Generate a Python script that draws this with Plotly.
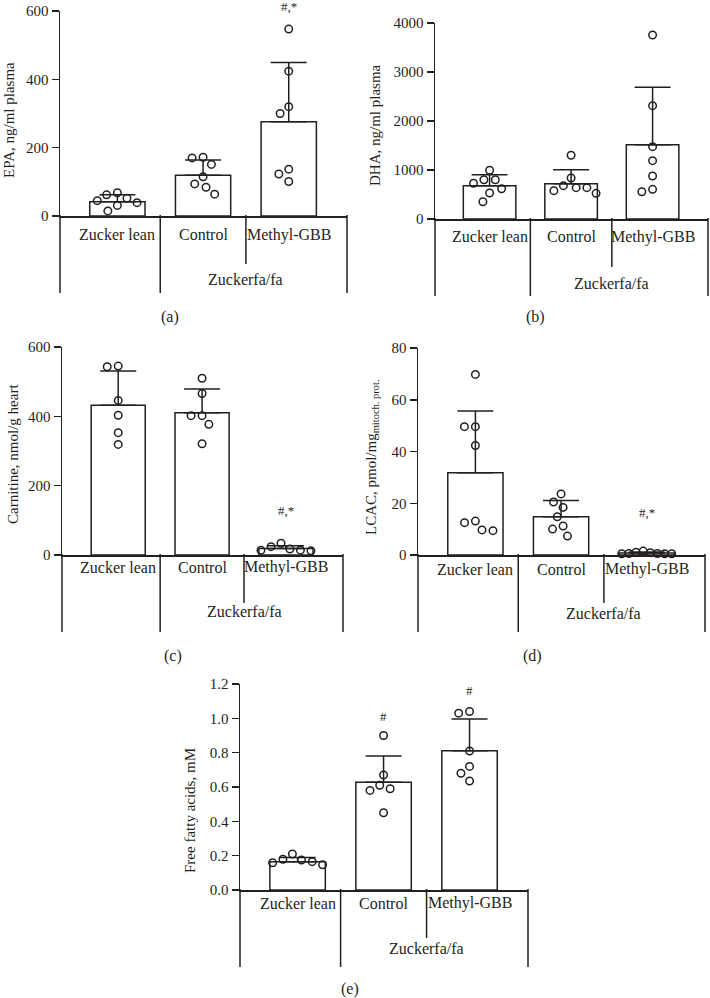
import math
import plotly.graph_objects as go

W, H = 710, 998
INK = "#231F20"
SERIF = "Liberation Serif, Times New Roman, serif"

# ---------------- data ----------------
groups = ["Zucker lean", "Control", "Methyl-GBB"]
strain_label = "Zuckerfa/fa"

# (a) EPA, ng/ml plasma
epa_mean = [42, 119, 276]
epa_sd = [20, 45, 173]
epa_pts = [[68, 39, 52, 15, 62, 31, 45],
           [172, 170, 151, 115, 94, 84, 64],
           [547, 424, 320, 300, 101, 137, 123]]
epa_sig = ["", "", "#,*"]

# (b) DHA, ng/ml plasma
dha_mean = [680, 720, 1516]
dha_sd = [224, 286, 1172]
dha_pts = [[994, 729, 802, 802, 618, 531, 353],
           [1300, 837, 680, 524, 639, 578, 639],
           [3755, 2313, 1476, 1190, 878, 557, 606]]
dha_sig = ["", "", ""]

# (c) Carnitine, nmol/g heart
car_mean = [432, 410, 19]
car_sd = [99, 69, 8]
car_pts = [[543, 545, 446, 403, 353, 319],
           [510, 466, 402, 402, 377, 321],
           [14, 34, 14, 24, 12, 17]]
car_sig = ["", "", "#,*"]

# (d) LCAC, pmol/mg mitoch. prot.
lcac_mean = [31.8, 14.8, 0.8]
lcac_sd = [23.9, 6.3, 0.4]
lcac_pts = [[69.8, 49.6, 49.6, 42.3, 9.4, 12.5, 13.1, 9.7],
            [23.6, 20.5, 18.4, 14.8, 11.2, 10.0, 7.3],
            [0.6, 1.5, 0.6, 1.1, 0.5, 0.9, 0.5, 0.5]]
lcac_sig = ["", "", "#,*"]

# (e) Free fatty acids, mM
ffa_mean = [0.165, 0.627, 0.811]
ffa_sd = [0.025, 0.153, 0.185]
ffa_pts = [[0.159, 0.179, 0.165, 0.175, 0.21, 0.147],
           [0.90, 0.67, 0.61, 0.58, 0.59, 0.45],
           [1.04, 1.03, 0.81, 0.72, 0.68, 0.635]]
ffa_sig = ["", "#", "#"]

# ---------------- layout config (pixel geometry) ----------------
panels = [
    dict(mean=epa_mean, sd=epa_sd, pts=epa_pts, sig=epa_sig, sig_y=[0, 0, 612],
         left=60, right=347, zero=216, top=11, ymax=600, dtick=200, fmt="d",
         title="EPA, ng/ml plasma", title_xy=(9, 120), cat_dy=19, strain_dy=63,
         tag="(a)", tag_xy=(170, 317)),
    dict(mean=dha_mean, sd=dha_sd, pts=dha_pts, sig=dha_sig, sig_y=[0, 0, 0],
         left=435, right=708, zero=219, top=23, ymax=4000, dtick=1000, fmt="d",
         title="DHA, ng/ml plasma", title_xy=(375, 125), cat_dy=18, strain_dy=64,
         tag="(b)", tag_xy=(535, 317)),
    dict(mean=car_mean, sd=car_sd, pts=car_pts, sig=car_sig, sig_y=[0, 0, 127],
         left=62, right=343, zero=555, top=347, ymax=600, dtick=200, fmt="d",
         title="Carnitine, nmol/g heart", title_xy=(13, 454), cat_dy=12, strain_dy=56,
         tag="(c)", tag_xy=(173, 656)),
    dict(mean=lcac_mean, sd=lcac_sd, pts=lcac_pts, sig=lcac_sig, sig_y=[0, 0, 16.6],
         left=418, right=705, zero=555, top=348, ymax=80, dtick=20, fmt="d",
         title="LCAC, pmol/mg<sub>mitoch. prot.</sub>", title_xy=(372, 457), cat_dy=14, strain_dy=58,
         tag="(d)", tag_xy=(532, 656)),
    dict(mean=ffa_mean, sd=ffa_sd, pts=ffa_pts, sig=ffa_sig, sig_y=[0, 1.01, 1.165],
         left=240, right=528, zero=890, top=684, ymax=1.2, dtick=0.2, fmt=".1f",
         title="Free fatty acids, mM", title_xy=(190, 810), cat_dy=13, strain_dy=58,
         tag="(e)", tag_xy=(350, 989)),
]

XR = [-0.67, 2.68]
BAR_W = 0.645
SWARM_D = 11.0   # px, min centre distance between dots
SWARM_LIM = 25.0  # px, max half-spread of a swarm


def swarm(vals, ppu, D, lim):
    """Deterministic beeswarm: returns pixel x offsets."""
    order = sorted(range(len(vals)), key=lambda i: -vals[i])
    placed = []
    out = [0.0] * len(vals)
    for i in order:
        y = vals[i] * ppu
        cands = [0.0]
        for (px, py) in placed:
            dy = abs(py - y)
            if dy < D:
                dx = math.sqrt(D * D - dy * dy)
                cands += [px - dx, px + dx]
        cands.sort(key=lambda c: (abs(c), c))
        for c in cands:
            if all((c - px) ** 2 + (y - py) ** 2 >= D * D - 1e-6 for px, py in placed):
                out[i] = c
                placed.append((c, y))
                break
    lo, hi = min(out), max(out)
    mid = (lo + hi) / 2 if (hi - lo) > 2 * lim else 0.0
    out = [o - mid for o in out]
    m = max(abs(o) for o in out)
    if m > lim:
        out = [o * lim / m for o in out]
    return out


fig = go.Figure()
shapes, annotations = [], []
layout_axes = {}

for i, p in enumerate(panels):
    n = i + 1
    xa = "x" if n == 1 else f"x{n}"
    ya = "y" if n == 1 else f"y{n}"
    xs = list(range(len(groups)))
    ydom = [1 - p["zero"] / H, 1 - p["top"] / H]

    fig.add_trace(go.Bar(
        x=xs, y=p["mean"], width=BAR_W,
        marker=dict(color="white", line=dict(color=INK, width=1.5)),
        error_y=dict(type="data", symmetric=False, array=p["sd"], arrayminus=[0] * len(xs),
                     color=INK, thickness=1.5, width=18),
        xaxis=xa, yaxis=ya, showlegend=False, hoverinfo="skip"))

    ppu_y = (p["zero"] - p["top"]) / p["ymax"]
    ppu_x = (p["right"] - p["left"]) / (XR[1] - XR[0])
    dx_all, dy_all = [], []
    for g, vals in enumerate(p["pts"]):
        offs = swarm(vals, ppu_y, SWARM_D, SWARM_LIM)
        dx_all += [g + o / ppu_x for o in offs]
        dy_all += vals
    fig.add_trace(go.Scatter(
        x=dx_all, y=dy_all, mode="markers", cliponaxis=False,
        marker=dict(symbol="circle-open", size=7.5, color=INK, line=dict(width=1.5, color=INK)),
        xaxis=xa, yaxis=ya, showlegend=False, hoverinfo="skip"))

    layout_axes["xaxis" if n == 1 else f"xaxis{n}"] = dict(
        domain=[p["left"] / W, p["right"] / W], range=XR, anchor=ya,
        showline=True, linecolor=INK, linewidth=1.5, ticks="", showticklabels=False,
        showgrid=False, zeroline=False, fixedrange=True)
    layout_axes["yaxis" if n == 1 else f"yaxis{n}"] = dict(
        domain=ydom, range=[0, p["ymax"]], anchor=xa,
        showline=True, linecolor=INK, linewidth=1.5, ticks="outside", ticklen=7,
        tickwidth=1.5, tickcolor=INK, tick0=0, dtick=p["dtick"], tickformat=p["fmt"],
        tickfont=dict(family=SERIF, size=15, color=INK),
        showgrid=False, zeroline=False, fixedrange=True)

    # grouping lines below the x axis
    long_y = 1 - (p["zero"] + 77) / H
    short_y = 1 - (p["zero"] + 48) / H
    zero_y = 1 - (p["zero"] - 1) / H
    ln = dict(color=INK, width=1.5)
    for xd in (0, 1):
        shapes.append(dict(type="line", xref=f"{xa} domain", yref="paper",
                           x0=xd, x1=xd, y0=zero_y, y1=long_y, line=ln))
    shapes.append(dict(type="line", xref=xa, yref="paper",
                       x0=0.5, x1=0.5, y0=zero_y, y1=long_y, line=ln))
    shapes.append(dict(type="line", xref=xa, yref="paper",
                       x0=1.5, x1=1.5, y0=zero_y, y1=short_y, line=ln))

    # category labels
    for g, name in enumerate(groups):
        annotations.append(dict(x=g, xref=xa, y=1 - (p["zero"] + p["cat_dy"]) / H, yref="paper",
                                text=name, showarrow=False, xanchor="center", yanchor="middle",
                                font=dict(family=SERIF, size=16, color=INK)))
    annotations.append(dict(x=1.5, xref=xa, y=1 - (p["zero"] + p["strain_dy"]) / H, yref="paper",
                            text=strain_label, showarrow=False, xanchor="center", yanchor="middle",
                            font=dict(family=SERIF, size=16, color=INK)))
    # significance marks (converted to paper coords so they may sit above the range)
    for g, s in enumerate(p["sig"]):
        if s:
            yp = ydom[0] + p["sig_y"][g] / p["ymax"] * (ydom[1] - ydom[0])
            annotations.append(dict(x=g, xref=xa, y=yp, yref="paper", text=s,
                                    showarrow=False, xanchor="center", yanchor="middle",
                                    font=dict(family=SERIF, size=13, color=INK)))
    # y title
    tx, ty = p["title_xy"]
    annotations.append(dict(x=tx / W, y=1 - ty / H, xref="paper", yref="paper", text=p["title"],
                            textangle=-90, showarrow=False, xanchor="center", yanchor="middle",
                            font=dict(family=SERIF, size=15, color=INK)))
    # panel tag
    gx, gy = p["tag_xy"]
    annotations.append(dict(x=gx / W, y=1 - gy / H, xref="paper", yref="paper", text=p["tag"],
                            showarrow=False, xanchor="center", yanchor="middle",
                            font=dict(family=SERIF, size=16, color=INK)))

fig.update_layout(
    width=W, height=H, margin=dict(l=0, r=0, t=0, b=0, pad=0, autoexpand=False),
    paper_bgcolor="white", plot_bgcolor="rgba(0,0,0,0)",
    font=dict(family=SERIF, color=INK), bargap=0,
    shapes=shapes, annotations=annotations, **layout_axes)

fig.write_html(
    "out.html",
    config={"displayModeBar": False, "staticPlot": True},
    post_script="document.body.style.margin='0';document.body.style.overflow='hidden';"
                "document.documentElement.style.overflow='hidden';")
